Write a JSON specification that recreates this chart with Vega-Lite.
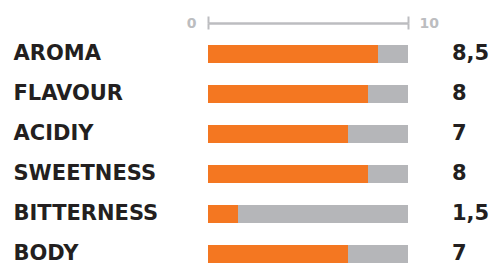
{
  "$schema": "https://vega.github.io/schema/vega-lite/v6.json",
  "width": 200,
  "height": 240,
  "autosize": {"type": "none"},
  "padding": {"left": 208, "top": 23, "right": 81, "bottom": 0},
  "background": "white",
  "config": {
    "view": {"stroke": null},
    "locale": {"number": {"decimal": ",", "thousands": ".", "grouping": [3], "currency": ["", " €"]}}
  },
  "data": {
    "values": [
      {"attribute": "AROMA", "score": 8.5, "max": 10},
      {"attribute": "FLAVOUR", "score": 8, "max": 10},
      {"attribute": "ACIDIY", "score": 7, "max": 10},
      {"attribute": "SWEETNESS", "score": 8, "max": 10},
      {"attribute": "BITTERNESS", "score": 1.5, "max": 10},
      {"attribute": "BODY", "score": 7, "max": 10}
    ]
  },
  "encoding": {
    "y": {
      "field": "attribute",
      "type": "nominal",
      "sort": null,
      "scale": {"paddingInner": 0.55, "paddingOuter": 0.275, "align": 1},
      "axis": {
        "title": null,
        "domain": false,
        "ticks": false,
        "labelAlign": "left",
        "labelBaseline": "middle",
        "labelPadding": 195,
        "labelFont": "DejaVu Sans",
        "labelFontWeight": "bold",
        "labelFontSize": 21,
        "labelColor": "#231f20",
        "labelLimit": 0
      }
    }
  },
  "resolve": {"axis": {"x": "independent"}},
  "layer": [
    {
      "mark": {"type": "bar", "color": "#b5b6b9", "cornerRadius": 0},
      "encoding": {
        "x": {
          "field": "max",
          "type": "quantitative",
          "scale": {"domain": [0, 10], "nice": false, "zero": true},
          "axis": {
            "orient": "top",
            "title": null,
            "values": [0, 10],
            "grid": false,
            "domain": true,
            "domainColor": "#bcbdc0",
            "domainWidth": 2.5,
            "ticks": true,
            "tickColor": "#bcbdc0",
            "tickWidth": 2,
            "tickSize": 7,
            "labelFont": "DejaVu Sans",
            "labelFontWeight": "bold",
            "labelFontSize": 14,
            "labelColor": "#bcbdc0",
            "labelBaseline": "middle",
            "labelPadding": -7,
            "labelAlign": {"condition": {"test": "datum.value == 0", "value": "right"}, "value": "left"},
            "labelOffset": {"condition": {"test": "datum.value == 0", "value": -12}, "value": 11},
            "labelFlush": false
          }
        }
      }
    },
    {
      "mark": {"type": "bar", "color": "#f47721"},
      "encoding": {
        "x": {
          "field": "score",
          "type": "quantitative",
          "axis": {
            "orient": "top",
            "title": null,
            "values": [0, 10],
            "grid": false,
            "domain": false,
            "labels": false,
            "ticks": true,
            "tickColor": "#bcbdc0",
            "tickWidth": 2,
            "tickSize": -6,
            "offset": 0
          }
        }
      }
    },
    {
      "mark": {
        "type": "text",
        "align": "left",
        "baseline": "middle",
        "font": "DejaVu Sans",
        "fontWeight": "bold",
        "fontSize": 21,
        "color": "#231f20",
        "clip": false
      },
      "encoding": {
        "x": {"datum": 12.2, "type": "quantitative", "axis": null},
        "text": {"field": "score", "type": "quantitative", "format": ".2~f"}
      }
    }
  ]
}
